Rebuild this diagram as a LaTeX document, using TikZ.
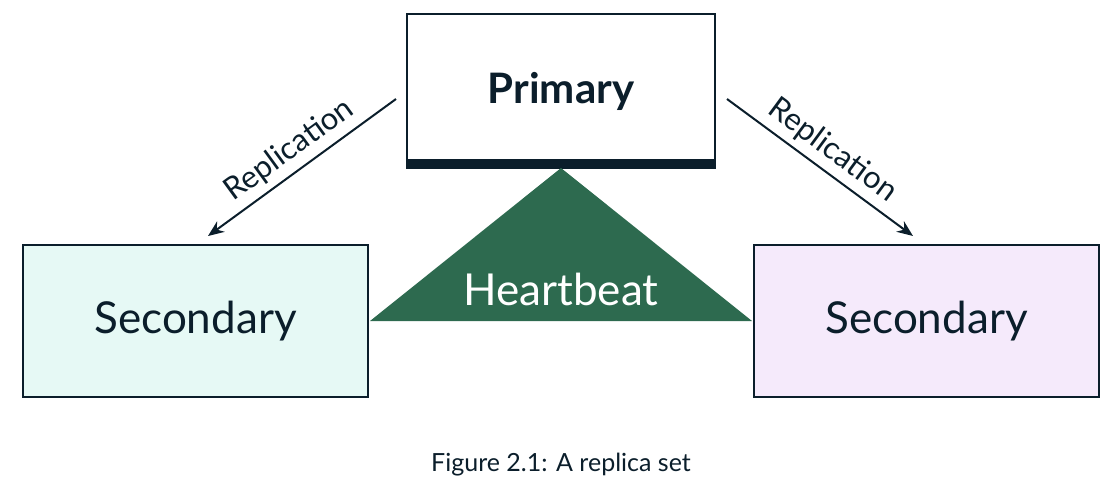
\documentclass[tikz,border=0pt]{standalone}
\usepackage{fontspec}
\setmainfont{Lato}
\usetikzlibrary{arrows.meta}
\definecolor{ink}{HTML}{0B1E2B}
\definecolor{forest}{HTML}{2D6A4F}
\definecolor{mint}{HTML}{E6F9F5}
\definecolor{lav}{HTML}{F5EAFB}
\tikzset{
  box/.style={draw=ink, line width=1.2pt, minimum width=345pt, minimum height=152pt, inner sep=0pt, text=ink, font=\fontsize{44}{46}\selectfont},
  repl/.style={draw=ink, line width=2pt, -{Stealth[length=16pt,width=13pt]}},
  repllabel/.style={sloped, above=6pt, inner sep=0pt, text=ink, font=\fontsize{31}{33}\selectfont},
}
\begin{document}
\begin{tikzpicture}[x=1pt,y=-1pt]
\useasboundingbox (0,0) rectangle (1120,491);
% primary
\node[box, minimum width=308pt, minimum height=154pt, fill=white, font=\fontsize{42}{44}\selectfont\bfseries] (prim) at (561,91) {Primary};
\fill[ink] (prim.south west) rectangle ([yshift=10pt]prim.south east);
% secondaries
\node[box, fill=mint] (secl) at (195.5,321) {Secondary};
\node[box, fill=lav] (secr) at (926.5,321) {Secondary};
% heartbeat triangle
\coordinate (apex) at (561,168);
\coordinate (bl) at (370,321);
\coordinate (br) at (752,321);
\fill[forest] (apex) -- (bl) -- (br) -- cycle;
\node[text=white, font=\fontsize{44}{46}\selectfont, inner sep=0pt] (hb) at (561,289) {Heartbeat};
% replication arrows
\coordinate (ls) at (396,99);
\coordinate (le) at (208,236);
\coordinate (rs) at (727,99);
\coordinate (re) at (913,236);
\draw[repl] (ls) -- node[repllabel] (lrep) {Replication} (le);
\draw[repl] (rs) -- node[repllabel] (rrep) {Replication} (re);
% caption
\node[text=ink, font=\fontsize{25}{27}\selectfont, inner sep=0pt] (cap) at (561,465) {Figure 2.1: A replica set};
\end{tikzpicture}
\end{document}
